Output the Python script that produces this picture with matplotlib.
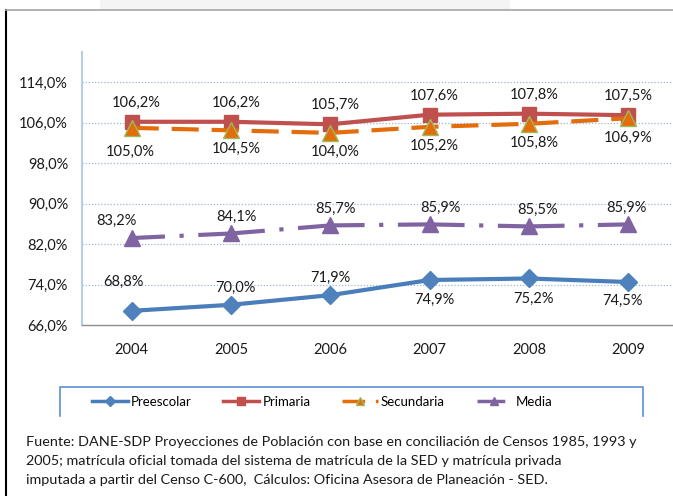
import matplotlib
matplotlib.use("Agg")
import matplotlib.pyplot as plt
from matplotlib.lines import Line2D
from matplotlib.patches import Rectangle

plt.rcParams['font.family'] = ['Lato', 'DejaVu Sans']

years = ["2004", "2005", "2006", "2007", "2008", "2009"]
preescolar = [68.8, 70.0, 71.9, 74.9, 75.2, 74.5]
primaria = [106.2, 106.2, 105.7, 107.6, 107.8, 107.5]
secundaria = [105.0, 104.5, 104.0, 105.2, 105.8, 106.9]
media = [83.2, 84.1, 85.7, 85.9, 85.5, 85.9]
yticks = [66, 74, 82, 90, 98, 106, 114]
series_names = ["Preescolar", "Primaria", "Secundaria", "Media"]
footnote = [
    "Fuente: DANE-SDP Proyecciones de Población con base en conciliación de Censos 1985, 1993 y",
    "2005; matrícula oficial tomada del sistema de matrícula de la SED y matrícula privada",
    "imputada a partir del Censo C-600,  Cálculos: Oficina Asesora de Planeación - SED.",
]

W, H = 673, 496
fig = plt.figure(figsize=(W / 100, H / 100), dpi=100)

def fx(px):
    return px / W

def fy(py):
    return 1 - py / H

# frame decorations
fig.patches.append(Rectangle((fx(100), fy(10)), fx(410), 10 / H, transform=fig.transFigure,
                             facecolor="#f4f4f4", edgecolor="none", zorder=0))
fig.add_artist(Line2D([fx(6), fx(6)], [fy(10), 0], color="black", lw=1.5))
fig.add_artist(Line2D([fx(6), 1], [fy(10), fy(10)], color="#a6a6a6", lw=1.2))

ax = fig.add_axes([fx(82), fy(325), fx(678 - 82), (325 - 52) / H])
ax.set_facecolor("none")
x = list(range(len(years)))
lw = 3.0

ax.plot(x, preescolar, color="#4a7ebb", lw=lw, marker="D", markersize=9,
        markerfacecolor="#4f81bd", markeredgecolor="#4f81bd", label=series_names[0], zorder=4)
ax.plot(x, primaria, color="#c0504d", lw=lw, marker="s", markersize=10,
        markerfacecolor="#c0504d", markeredgecolor="#c0504d", label=series_names[1], zorder=3)
ax.plot(x, secundaria, color="#e46c0a", lw=lw, linestyle=(0, (6.5, 3.1)), marker="^", markersize=11,
        markerfacecolor="#e46c0a", markeredgecolor="#9bbb59", markeredgewidth=1,
        label=series_names[2], zorder=4)
ax.plot(x, media, color="#8064a2", lw=lw, linestyle=(8, (16, 3.5, 1, 3.5)), marker="^", markersize=11,
        markerfacecolor="#8064a2", markeredgecolor="#8064a2", label=series_names[3], zorder=4)

# data labels (offsets in pixels)
lab_font = dict(fontsize=10.5, color="#1a1a1a", ha="center", va="center")
pre_off = [(-8, 29), (4, 17), (0, 17), (5, -20), (5, -20), (-6, -19)]
pri_off = [(5, 19), (5, 19), (5, 19), (5, 19), (5, 19), (0, 19)]
sec_off = [(-1, -24), (5, -19), (5, -19), (5, -19), (5, -19), (0, -20)]
med_off = [(-15, 17), (5, 17), (5, 17), (11, 17), (9, 17), (-2, 17)]
for vals, offs in [(preescolar, pre_off), (primaria, pri_off), (secundaria, sec_off), (media, med_off)]:
    for i, v in enumerate(vals):
        ax.annotate(f"{v:.1f}%".replace(".", ","), (i, v), xytext=offs[i],
                    textcoords="offset pixels", **lab_font)

ax.set_xlim(-0.5, 5.5)
ax.set_ylim(66, 120)
ax.set_yticks(yticks)
ax.set_yticklabels([f"{t:.1f}%".replace(".", ",") for t in yticks])
ax.set_xticks(x)
ax.set_xticklabels(years)
ax.tick_params(axis="y", length=0, pad=10, labelsize=10.5, labelcolor="#1a1a1a")
ax.tick_params(axis="x", length=0, pad=13, labelsize=10.5, labelcolor="#1a1a1a")
for t in yticks[1:]:
    ax.axhline(t, color="#9fb6d6", lw=0.9, linestyle=(0, (1, 1.5)), zorder=1)
for s in ["top", "right"]:
    ax.spines[s].set_visible(False)
ax.spines["left"].set_color("#b9cde5")
ax.spines["left"].set_linewidth(1.5)
ax.spines["bottom"].set_color("#8c8c8c")
ax.spines["bottom"].set_linewidth(1.0)

# legend box (top, left, right lines)
bx0, bx1, by0, by1 = 60, 643, 387, 416
fig.add_artist(Line2D([fx(bx0), fx(bx0), fx(bx1), fx(bx1)], [fy(by1), fy(by0), fy(by0), fy(by1)],
                      color="#5b8fd4", lw=1.2))
handles, labels = ax.get_legend_handles_labels()
leg = fig.legend(handles, labels, ncol=4, frameon=False, loc="center left",
                 bbox_to_anchor=(fx(92), fy(402)), fontsize=9.5, handlelength=2.7,
                 handletextpad=0.25, columnspacing=2.4, borderpad=0, borderaxespad=0)
for h in leg.legend_handles:
    h.set_markersize(5.5)
    h.set_linewidth(2.5)

for i, line in enumerate(footnote):
    fig.text(fx(26), fy(442 + 19 * i), line, fontsize=10.4, color="#1a1a1a", va="center", ha="left")

fig.savefig("out.png", dpi=100)
